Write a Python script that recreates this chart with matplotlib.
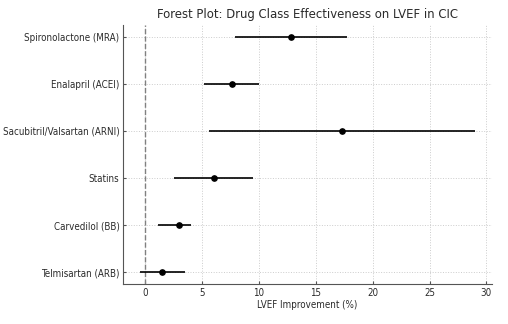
import matplotlib
matplotlib.use("Agg")
import matplotlib.pyplot as plt

plt.rcParams['font.family'] = ['DejaVu Sans']
plt.rcParams['font.stretch'] = 'condensed'

drugs = ["Spironolactone (MRA)", "Enalapril (ACEI)", "Sacubitril/Valsartan (ARNI)",
         "Statins", "Carvedilol (BB)", "Telmisartan (ARB)"]
effect = [12.8, 7.6, 17.3, 6.0, 3.0, 1.5]
ci_low = [7.9, 5.2, 5.6, 2.5, 1.1, -0.5]
ci_high = [17.7, 10.0, 29.0, 9.5, 4.0, 3.5]

ypos = list(range(len(drugs)))[::-1]
err_lo = [e - l for e, l in zip(effect, ci_low)]
err_hi = [h - e for e, h in zip(effect, ci_high)]

fig = plt.figure(figsize=(5.08, 3.24), dpi=100)
ax = fig.add_axes([0.242, 0.123, 0.726, 0.8])

ax.errorbar(effect, ypos, xerr=[err_lo, err_hi], fmt='o', color='black',
            ecolor='black', markersize=3.8, elinewidth=1.2, capsize=0, zorder=3)
ax.axvline(0, color='gray', linestyle='--', linewidth=1)

ax.set_yticks(ypos)
ax.set_yticklabels(drugs)
ax.set_xlabel("LVEF Improvement (%)", fontsize=7.0, color='#2a2a2a', labelpad=2)
ax.set_title("Forest Plot: Drug Class Effectiveness on LVEF in CIC", fontsize=9.4,
             color='#2a2a2a', pad=5)

ax.grid(True, linestyle=':', color='#cccccc', linewidth=0.7)
ax.set_axisbelow(True)
for s in ['top', 'right']:
    ax.spines[s].set_visible(False)
for s in ['left', 'bottom']:
    ax.spines[s].set_color('#555555')
ax.tick_params(direction='in', labelsize=7.0, labelcolor='#2a2a2a', color='#555555',
               length=2.5, pad=2.5)

fig.savefig("out.png", dpi=100)
